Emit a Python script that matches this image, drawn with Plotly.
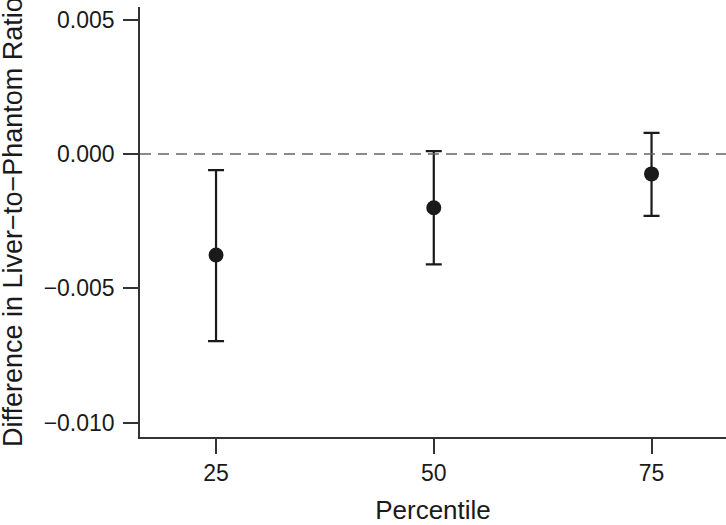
import plotly.graph_objects as go

percentile = [25, 50, 75]
difference = [-0.00376, -0.00200, -0.00074]
ci_lower = [-0.00696, -0.00411, -0.00230]
ci_upper = [-0.00060, 0.00011, 0.00079]

x_ticks = [25, 50, 75]
y_ticks = [0.005, 0.0, -0.005, -0.010]
y_ticklabels = ["0.005", "0.000", "\u22120.005", "\u22120.010"]

err_plus = [u - d for u, d in zip(ci_upper, difference)]
err_minus = [d - l for d, l in zip(difference, ci_lower)]

FONT = "Liberation Sans, Arial, Helvetica, sans-serif"
INK = "#1a1a1a"

fig = go.Figure()
fig.add_trace(go.Scatter(
    x=percentile, y=difference, mode="markers",
    marker=dict(size=15, color=INK),
    error_y=dict(type="data", symmetric=False, array=err_plus, arrayminus=err_minus,
                 color=INK, thickness=2.2, width=8),
    showlegend=False,
))

fig.add_shape(type="line", xref="paper", x0=0, x1=1, yref="y", y0=0, y1=0,
              line=dict(color="#666666", width=1.5, dash="11px,7px"))

fig.update_layout(
    width=726, height=525,
    margin=dict(l=140, r=0, t=7, b=88, autoexpand=False),
    paper_bgcolor="white", plot_bgcolor="white",
    font=dict(family=FONT, color=INK),
    xaxis=dict(range=[16.27, 83.55], tickvals=x_ticks, ticktext=[str(v) for v in x_ticks],
               ticks="outside", ticklen=15, tickwidth=1.5, tickcolor="#333333",
               showline=True, linecolor="#333333", linewidth=1.5, showgrid=False,
               zeroline=False, automargin=False,
               tickfont=dict(size=23, family=FONT, color=INK),
               title=dict(text="Percentile", font=dict(size=26, family=FONT, color=INK), standoff=16)),
    yaxis=dict(range=[-0.01053, 0.00547], tickvals=y_ticks, ticktext=y_ticklabels,
               ticks="outside", ticklen=15, tickwidth=1.5, tickcolor="#333333",
               showline=True, linecolor="#333333", linewidth=1.5, showgrid=False,
               zeroline=False, automargin=False,
               tickfont=dict(size=23, family=FONT, color=INK),
               ticklabelstandoff=4),
    annotations=[dict(text="Difference in Liver\u2212to\u2212Phantom Ratio", textangle=-90,
                      xref="paper", yref="paper", x=(13 - 140) / 586, y=0.5,
                      xanchor="center", yanchor="middle", showarrow=False,
                      font=dict(size=27, family=FONT, color=INK))],
)

fig.write_html("out.html", config={"displayModeBar": False},
               post_script="document.body.style.margin='0';document.body.style.overflow='hidden';")
